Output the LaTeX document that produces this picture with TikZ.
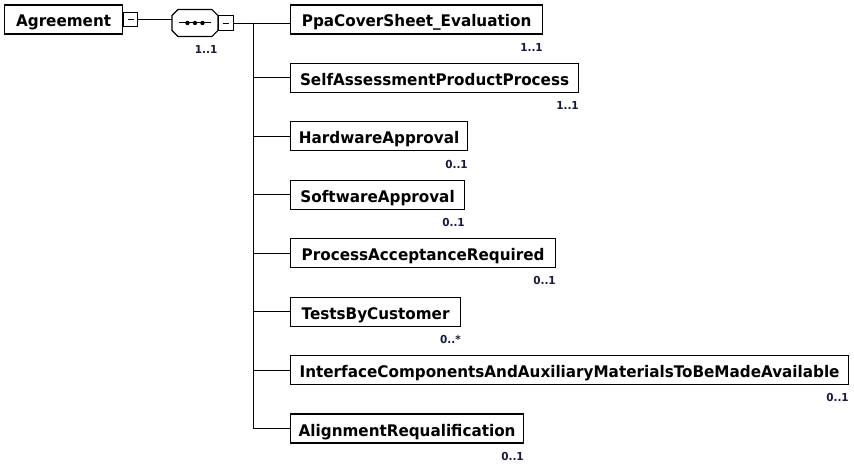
\documentclass[tikz,border=0pt]{standalone}
\usepackage{fontspec}
\setmainfont{DejaVu Sans}[FakeStretch=0.95]
\definecolor{multcol}{RGB}{25,25,60}
\tikzset{
  elem/.style={draw, fill=white, line width=1.2pt, anchor=west, inner sep=0pt,
    minimum height=29pt, text height=15pt, text depth=0pt,
    font=\bfseries\fontsize{16}{16}\selectfont},
  minusbox/.style={draw, fill=white, line width=0.8pt, inner sep=0pt,
    minimum width=14pt, minimum height=14pt, anchor=west,
    path picture={\draw[line width=0.8pt] ([xshift=-3pt]path picture bounding box.center)
      -- ([xshift=3pt]path picture bounding box.center);}},
  seqbox/.style={inner sep=0pt, minimum width=45pt, minimum height=26pt, anchor=west},
  mult/.style={anchor=north east, inner sep=0pt, yshift=-8pt, text=multcol,
    font=\bfseries\fontsize{11}{11}\selectfont},
}
\begin{document}
\begin{tikzpicture}[x=1pt,y=-1pt,line width=0.9pt]
      \useasboundingbox (0,0) rectangle (854,465);
      % root and sequence
      \node[elem, minimum width=118pt] (agr) at (4,19.5) {Agreement};
      \node[minusbox] (amin) at (agr.east) {};
      \node[seqbox] (seq) at (172,23) {};
      \draw[line width=1.2pt, fill=white]
        ([xshift=6pt]seq.north west) -- ([xshift=-6pt]seq.north east)
        -- ([yshift=-6pt]seq.north east) -- ([yshift=6pt]seq.south east)
        -- ([xshift=-6pt]seq.south east) -- ([xshift=6pt]seq.south west)
        -- ([yshift=6pt]seq.south west) -- ([yshift=-6pt]seq.north west) -- cycle;
      \node[minusbox, minimum width=15pt, minimum height=15pt] (smin) at (seq.east) {};
      \node[mult, yshift=-1pt] (sm) at (seq.south east) {1..1};
      \draw[line width=1pt] ([xshift=-16pt]seq.center) -- ([xshift=16pt]seq.center);
      \fill ([xshift=-7.5pt]seq.center) circle (2.2pt)
            (seq.center) circle (2.2pt)
            ([xshift=7.5pt]seq.center) circle (2.2pt);
      % children
      \node[elem, minimum width=252pt] (c1) at (290,19.5) {PpaCoverSheet\_Evaluation};
      \node[elem, minimum width=288pt] (c2) at (290,77.9) {SelfAssessmentProductProcess};
      \node[elem, minimum width=177pt] (c3) at (290,136.4) {HardwareApproval};
      \node[elem, minimum width=174pt] (c4) at (290,194.8) {SoftwareApproval};
      \node[elem, minimum width=265pt] (c5) at (290,253.2) {ProcessAcceptanceRequired};
      \node[elem, minimum width=170pt] (c6) at (290,311.7) {TestsByCustomer};
      \node[elem, minimum width=558pt] (c7) at (290,370.1) {InterfaceComponentsAndAuxiliaryMaterialsToBeMadeAvailable};
      \node[elem, minimum width=233pt] (c8) at (290,428.5) {AlignmentRequalification};
      \node[mult] (m1) at (c1.south east) {1..1};
      \node[mult] (m2) at (c2.south east) {1..1};
      \node[mult] (m3) at (c3.south east) {0..1};
      \node[mult] (m4) at (c4.south east) {0..1};
      \node[mult] (m5) at (c5.south east) {0..1};
      \node[mult] (m6) at (c6.south east) {0..*};
      \node[mult] (m7) at (c7.south east) {0..1};
      \node[mult] (m8) at (c8.south east) {0..1};
      \coordinate (t) at (253,23);
      \begin{scope}[-]
        \draw (amin.east) -- (amin.east -| seq.west);
        \draw (smin.east) -- (smin.east -| c1.west);
        \draw (t) -- (t |- c8.west);
        \draw (t |- c2.west) -- (c2.west);
        \draw (t |- c3.west) -- (c3.west);
        \draw (t |- c4.west) -- (c4.west);
        \draw (t |- c5.west) -- (c5.west);
        \draw (t |- c6.west) -- (c6.west);
        \draw (t |- c7.west) -- (c7.west);
        \draw (t |- c8.west) -- (c8.west);
      \end{scope}
    \end{tikzpicture}
\end{document}
